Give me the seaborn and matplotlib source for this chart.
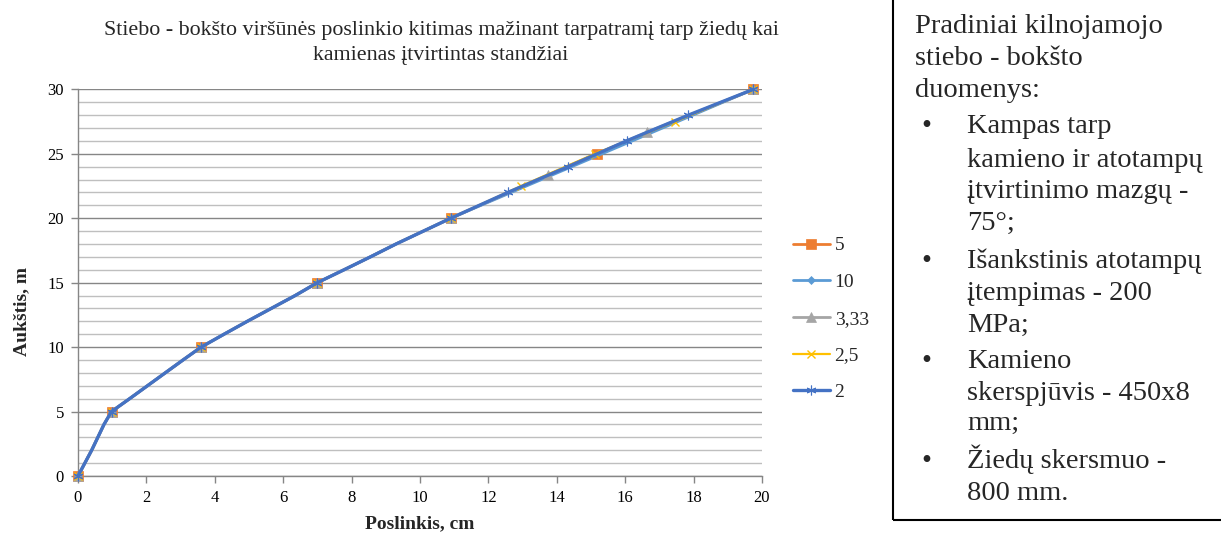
import numpy as np
import pandas as pd
import matplotlib
matplotlib.use("Agg")
import matplotlib.pyplot as plt
from matplotlib.ticker import MultipleLocator
from matplotlib.patches import Rectangle
import seaborn as sns

# Lower mast section (0-20 m) is identical for every ring spacing
h_low = [0, 1, 2, 3, 4, 5, 6, 7, 8, 9, 10, 11, 12, 13, 14, 15, 16, 17, 18, 19, 20]
x_low = [0, 0.20, 0.40, 0.58, 0.76, 0.98, 1.51, 2.03, 2.55, 3.07, 3.6,
         4.27, 4.95, 5.65, 6.35, 7.0, 7.78, 8.55, 9.3, 10.1, 10.9]
nodes_low = [0, 5, 10, 15, 20]

# Upper section (20-30 m): ring nodes for each spacing
h_up_5 = [25, 30]
x_up_5 = [15.17, 19.75]

h_up_10 = [30]
x_up_10 = [19.75]

h_up_333 = [23.33, 26.67, 30]
x_up_333 = [13.74, 16.63, 19.75]

h_up_25 = [22.5, 25, 27.5, 30]
x_up_25 = [12.96, 15.12, 17.46, 19.75]

h_up_2 = [22, 24, 26, 28, 30]
x_up_2 = [12.57, 14.33, 16.04, 17.85, 19.75]

series_labels = ["5", "10", "3,33", "2,5", "2"]

title_text = ("Stiebo - bokšto viršūnės poslinkio kitimas mažinant tarpatramį tarp žiedų kai\n"
              "kamienas įtvirtintas standžiai")
xlabel_text = "Poslinkis, cm"
ylabel_text = "Aukštis, m"

info_lines = [
    "Pradiniai kilnojamojo",
    "stiebo - bokšto",
    "duomenys:",
]
bullets = [
    ["Kampas tarp", "kamieno ir atotampų", "įtvirtinimo mazgų -", "75°;"],
    ["Išankstinis atotampų", "įtempimas - 200", "MPa;"],
    ["Kamieno", "skerspjūvis - 450x8", "mm;"],
    ["Žiedų skersmuo -", "800 mm."],
]

sns.set_theme(style="white")
plt.rcParams["font.family"] = ["Liberation Serif", "DejaVu Serif"]

W, H = 1221, 536
fig = plt.figure(figsize=(W / 100, H / 100), dpi=100)
ax = fig.add_axes([78 / W, 1 - 476 / H, (762 - 78) / W, (476 - 89.3) / H])

uppers = [(h_up_5, x_up_5), (h_up_10, x_up_10), (h_up_333, x_up_333),
          (h_up_25, x_up_25), (h_up_2, x_up_2)]
styles = [
    ("#ED7D31", "s", 7.5, 2.0, 0.5),
    ("#5B9BD5", "D", 4.0, 2.0, 0.5),
    ("#A5A5A5", "^", 6.5, 2.0, 0.5),
    ("#FFC000", "x", 6.0, 1.6, 1.0),
    ("#4472C4", (6, 2, 0), 7.0, 2.4, 0.8),
]
for (hu, xu), (col, mk, ms, lw, mew), lab in zip(uppers, styles, series_labels):
    hs = h_low + hu
    xs = x_low + xu
    marks = [i for i, h in enumerate(hs) if h in nodes_low or h in hu]
    sns.lineplot(x=xs, y=hs, ax=ax, color=col, marker=mk, markersize=ms,
                 markeredgecolor=col, markeredgewidth=mew, markevery=marks,
                 linewidth=lw, sort=False, label=lab, zorder=3, clip_on=False)

ax.set_xlim(0, 20)
ax.set_ylim(0, 30)
ax.xaxis.set_major_locator(MultipleLocator(2))
ax.yaxis.set_major_locator(MultipleLocator(5))
ax.yaxis.set_minor_locator(MultipleLocator(1))
ax.grid(False)
ax.grid(axis="y", which="major", color="#868686", linewidth=1.0, zorder=0)
ax.grid(axis="y", which="minor", color="#BFBFBF", linewidth=1.0, zorder=0)
for s in ("top", "right"):
    ax.spines[s].set_visible(False)
for s in ("left", "bottom"):
    ax.spines[s].set_color("#868686")
    ax.spines[s].set_linewidth(1.0)
ax.tick_params(axis="both", which="major", direction="out", length=5, width=1,
               color="#868686", labelsize=12, labelcolor="black", pad=5,
               left=True, bottom=True)
ax.tick_params(axis="y", which="minor", left=False)
ax.set_axisbelow(True)

ax.set_xlabel(xlabel_text, fontsize=14, fontweight="bold")
ax.xaxis.set_label_coords(0.5, -(524 - 476) / (476 - 89.3))
ax.xaxis.label.set_va("center")
ax.set_ylabel(ylabel_text, fontsize=14, fontweight="bold")
ax.yaxis.set_label_coords(-(78 - 22) / (762 - 78), (476 - 312) / (476 - 89.3))
ax.yaxis.label.set_va("center")

leg = ax.legend(loc="upper left", bbox_to_anchor=(785 / W, 1 - 229 / H),
                bbox_transform=fig.transFigure, frameon=False, fontsize=14,
                handlelength=1.9, handletextpad=0.25, labelspacing=0.98,
                borderaxespad=0)

fig.text(441 / W, 1 - 43 / H, title_text, ha="center", va="center",
         fontsize=15.8, linespacing=1.45)

# Info panel on the right
fig.patches.append(Rectangle((893 / W, 1 - 520 / H), 1.0, 1.0, transform=fig.transFigure,
                             fill=False, edgecolor="black", linewidth=1.5))
fs = 20.5
base = [33.3, 65, 96.7]
for txt, yb in zip(info_lines, base):
    fig.text(915 / W, 1 - yb / H, txt, ha="left", va="baseline", fontsize=fs)
bullet_base = [
    [133.3, 166.7, 198.3, 230],
    [268.3, 300, 331.7],
    [368.3, 400, 430],
    [468.3, 500],
]
for lines, ys in zip(bullets, bullet_base):
    fig.text(926 / W, 1 - ys[0] / H, "•", ha="center", va="baseline", fontsize=fs)
    for txt, yb in zip(lines, ys):
        fig.text(967 / W, 1 - yb / H, txt, ha="left", va="baseline", fontsize=fs)

fig.savefig("out.png", dpi=100)
